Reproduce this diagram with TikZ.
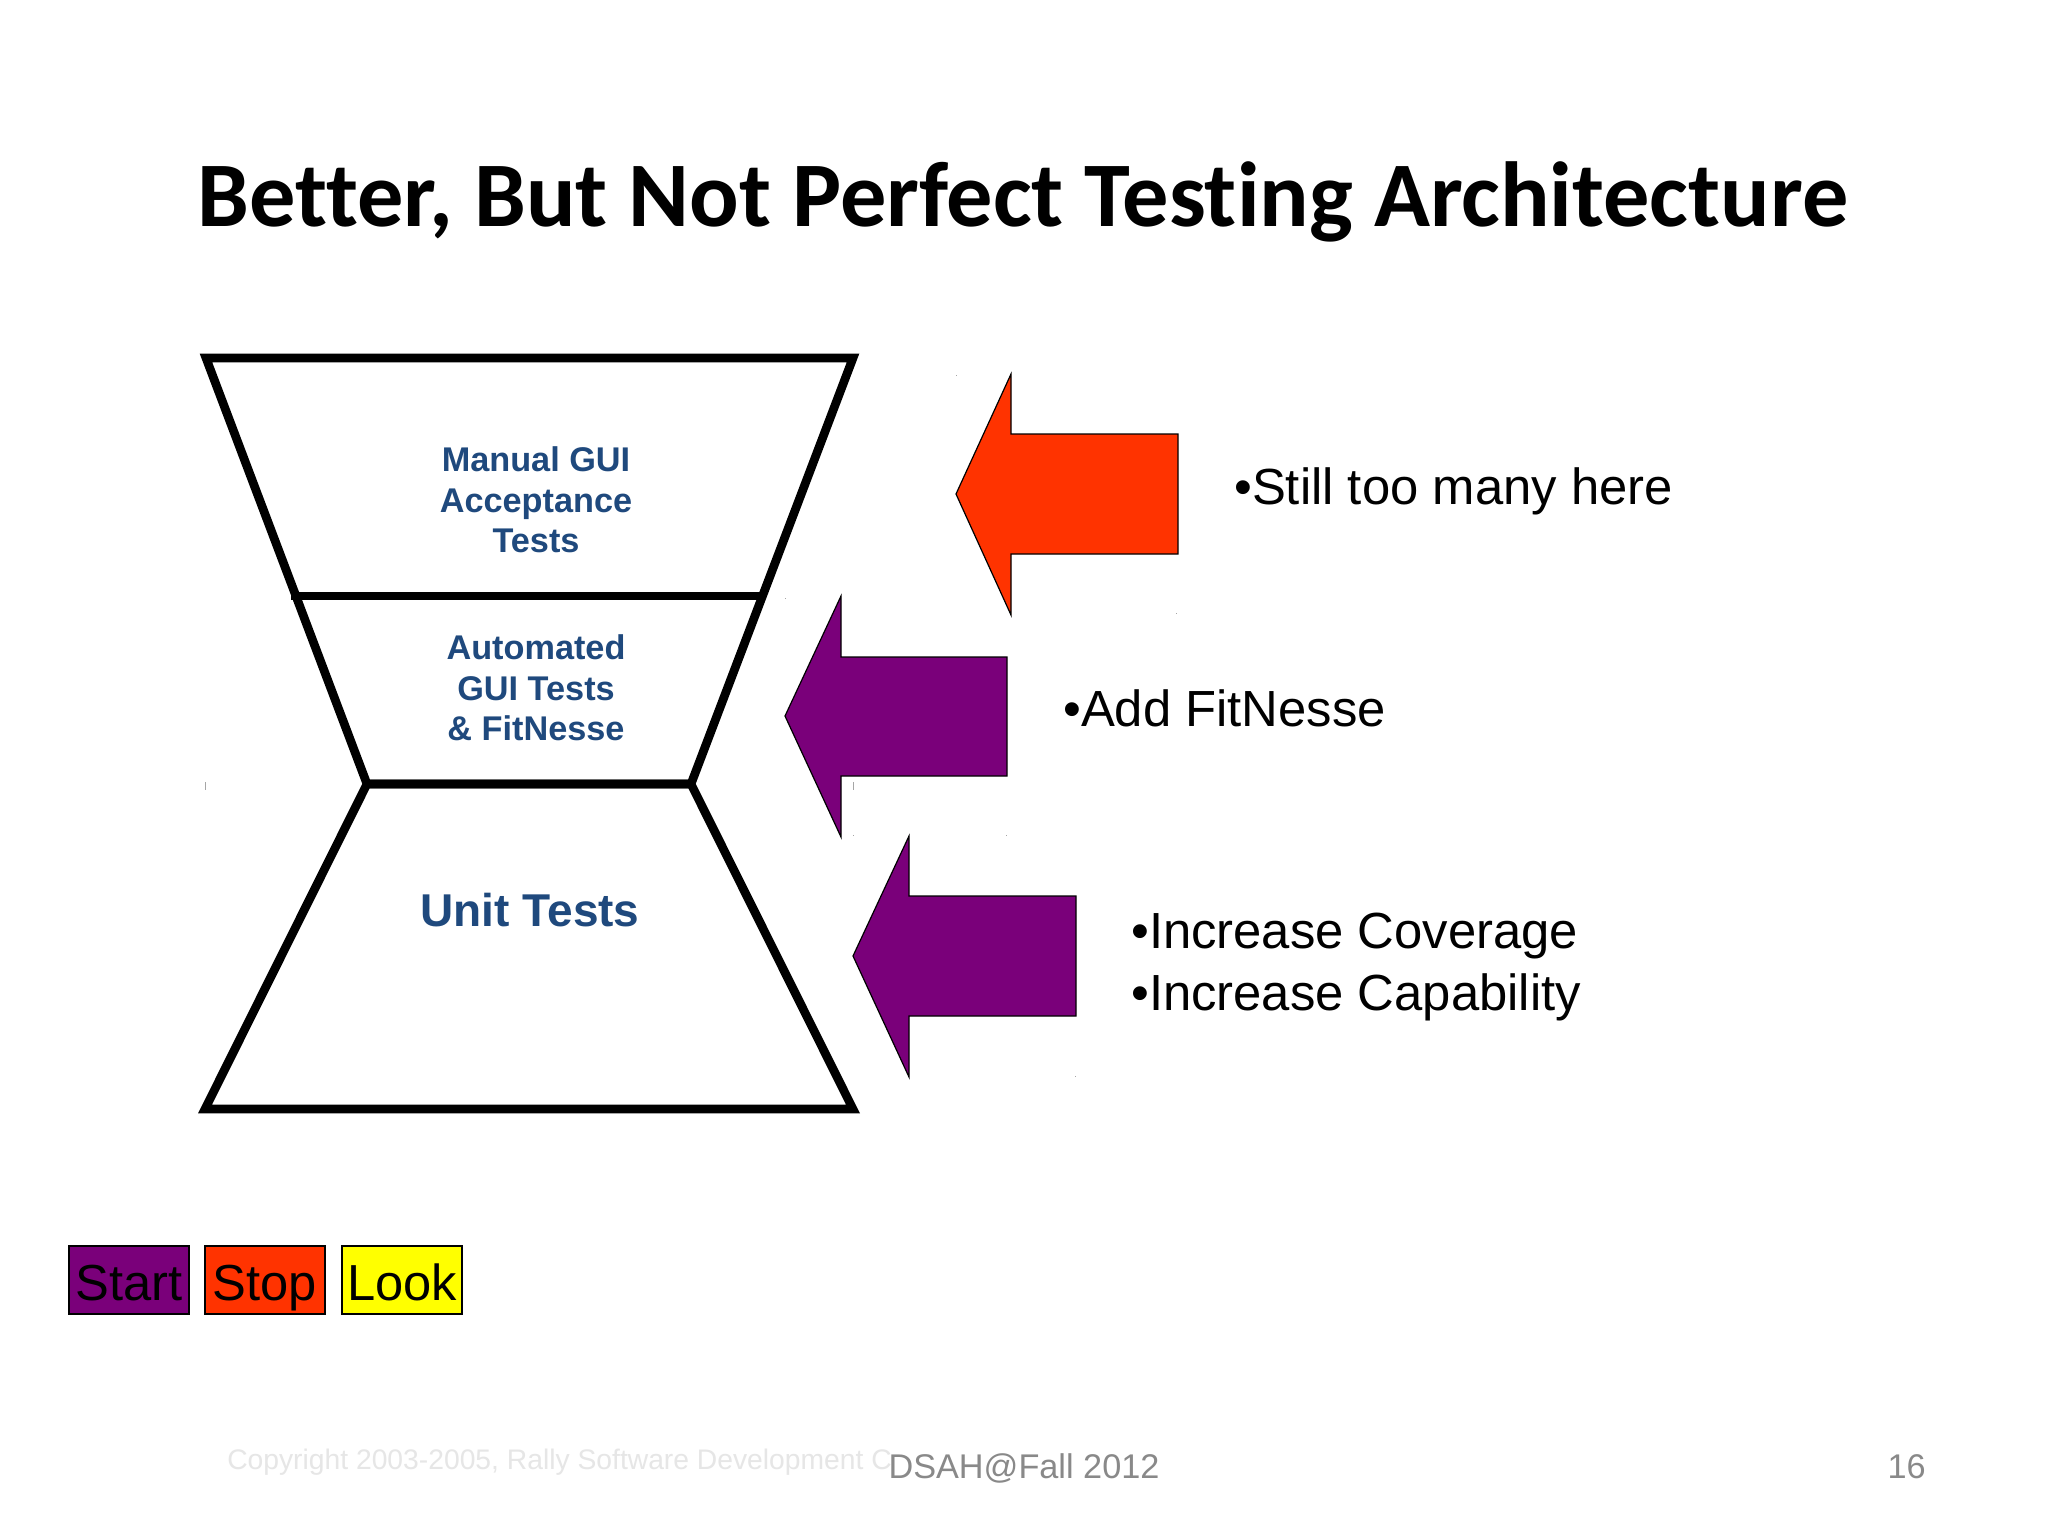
\documentclass[tikz,border=0pt]{standalone}
\usepackage{fontspec}
\setmainfont{Liberation Sans}
\newfontfamily\titlefont[Ligatures=NoCommon]{Carlito}
\definecolor{stopred}{HTML}{FF3300}
\definecolor{startpurple}{HTML}{7A007A}
\definecolor{lookyellow}{HTML}{FFFF00}
\definecolor{labelblue}{HTML}{1F497D}
\definecolor{footgray}{HTML}{898989}
\definecolor{faintgray}{HTML}{E6E6E6}
\tikzset{
  px/.style={x=0.75pt,y=-0.75pt},
  funnel/.style={draw=black,line width=6.5pt,line join=miter},
  arrowshape/.style={draw=black,line width=0.9pt,line join=miter},
  tierlabel/.style={font=\bfseries\fontsize{25.7pt}{30.5pt}\selectfont,text=labelblue,align=center,inner sep=0pt},
  bullettext/.style={font=\fontsize{38.1pt}{46pt}\selectfont,text=black,align=left,inner sep=0pt,anchor=base west},
  legendbox/.style={draw=black,line width=1.5pt},
  legendtext/.style={font=\fontsize{38pt}{46pt}\selectfont,text=black,inner sep=0pt,anchor=base},
  foot/.style={font=\fontsize{25.7pt}{30pt}\selectfont,text=footgray,inner sep=0pt},
  tick/.style={draw=gray!70,line width=0.5pt}
}
\begin{document}
\begin{tikzpicture}[px]
\useasboundingbox (0,0) rectangle (2048,1536);
\fill[white] (0,0) rectangle (2048,1536);
% title
\node[font=\titlefont\bfseries\fontsize{69.3pt}{78pt}\selectfont,inner sep=0pt,anchor=base] (title) at (1023,226) {Better, But Not Perfect Testing Architecture};
% funnel
\draw[funnel] (206,358) -- (853,358) -- (691,784) -- (367,784) -- cycle;
\draw[funnel] (291,596) -- (765,596);
\draw[funnel] (367,784) -- (691,784) -- (853,1109) -- (205,1109) -- cycle;
\node[tierlabel] (manual) at (536,500) {Manual GUI\\Acceptance\\Tests};
\node[tierlabel] (auto) at (536,688) {Automated\\GUI Tests\\\& FitNesse};
\node[font=\bfseries\fontsize{34.5pt}{40pt}\selectfont,text=labelblue,inner sep=0pt,anchor=base] (unit) at (530,926) {Unit Tests};
% arrows
\draw[arrowshape,fill=stopred] (956,494) -- (1011,374) -- (1011,434) -- (1178,434) -- (1178,554) -- (1011,554) -- (1011,615) -- cycle;
\draw[arrowshape,fill=startpurple] (785,716) -- (841,596) -- (841,657) -- (1007,657) -- (1007,776) -- (841,776) -- (841,837) -- cycle;
\draw[arrowshape,fill=startpurple] (853,956) -- (909,836) -- (909,896) -- (1076,896) -- (1076,1016) -- (909,1016) -- (909,1077) -- cycle;
% bullets
\node[bullettext] (still) at (1234,504) {•Still too many here};
\node[bullettext] (add) at (1063,726) {•Add FitNesse};
\node[bullettext] (inc) at (1131,1010) {•Increase Coverage\\•Increase Capability};
% legend
\node[legendbox,fill=startpurple,minimum width=89.5pt,minimum height=51pt,inner sep=0pt] (startbox) at (129,1280) {};
\node[legendbox,fill=stopred,minimum width=89.5pt,minimum height=51pt,inner sep=0pt] (stopbox) at (265,1280) {};
\node[legendbox,fill=lookyellow,minimum width=89.5pt,minimum height=51pt,inner sep=0pt] (lookbox) at (402,1280) {};
\node[legendtext] (startt) at (129,1300) {Start};
\node[legendtext] (stopt) at (265,1300) {Stop};
\node[legendtext] (lookt) at (402,1300) {Look};
% footer
\node[font=\fontsize{21.2pt}{26pt}\selectfont,text=faintgray,inner sep=0pt,anchor=base west] (copy) at (227,1469) {Copyright 2003-2005, Rally Software Development C};
\node[foot,anchor=base] (dsah) at (1024,1478) {DSAH@Fall 2012};
\node[foot,anchor=base east] (page) at (1926,1478) {16};
% small handle ticks
\draw[tick] (205,782) -- (205,790);
\draw[tick] (853,782) -- (853,790);
\draw[tick] (956,375) -- (956,376);
\draw[tick] (1176,613) -- (1176,614);
\draw[tick] (785,598) -- (785,599);
\draw[tick] (853,835) -- (853,836);
\draw[tick] (1006,835) -- (1006,836);
\draw[tick] (1075,1076) -- (1075,1077);
\end{tikzpicture}
\end{document}
